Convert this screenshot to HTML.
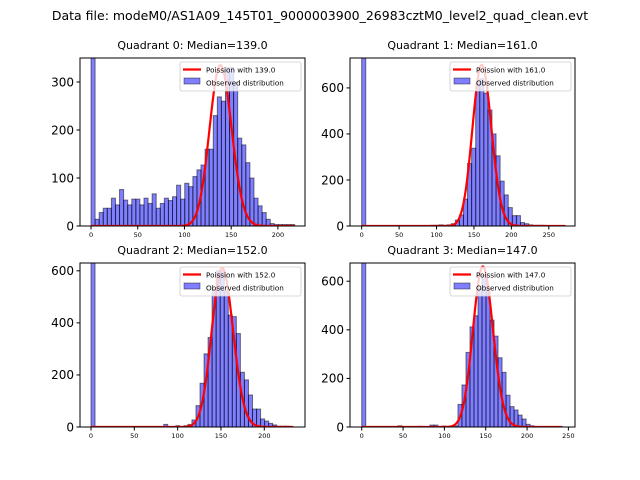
<!DOCTYPE html>
<html><head><meta charset="utf-8"><style>
body{margin:0;background:#fff;}
svg{display:block;font-family:"DejaVu Sans","Liberation Sans",sans-serif;}
</style></head><body>
<svg id="fig" width="640" height="480" viewBox="0 0 640 480">
<rect width="640" height="480" fill="#fff"/>
<text x="320" y="20" font-size="12.5" text-anchor="middle">Data file: modeM0/AS1A09_145T01_9000003900_26983cztM0_level2_quad_clean.evt</text>
</svg>
<script>
// Quadrant histogram counts (50 bins each)
const q0Counts=[5000,14,28,37,37,58,44,76,54,44,56,56,44,58,47,67,37,47,58,53,61,85,56,89,82,103,117,127,160,160,230,269,260,330,330,300,183,169,132,100,58,42,28,14,5,3,3,3,3,3];
const q1Counts=[5000,0,0,0,0,0,0,0,0,0,0,0,0,0,0,0,2,3,3,5,3,5,10,26,48,117,272,338,620,640,577,504,400,305,195,135,80,45,45,15,10,5,3,3,3,2,2,2,2,2];
const q2Counts=[5000,0,0,0,0,0,0,0,0,0,0,0,0,0,0,0,0,0,10,0,0,5,0,5,10,27,82,168,281,344,531,600,600,520,430,424,359,210,181,123,69,69,31,23,14,8,3,3,3,2];
const q3Counts=[5000,0,0,0,0,0,0,0,0,5,0,0,0,0,3,0,0,8,8,0,4,0,0,5,93,173,307,412,458,570,625,563,440,374,285,225,131,84,70,49,33,11,5,2,2,2,2,2,2,2];
const medians=[139.0,161.0,152.0,147.0];
const poissonPeaks=[335,700,610,660];
const binWidths=[4.36,5.44,4.66,4.85];
const yMaxes=[350,730,630,675];
const xLims=[[-11.8,229],[-15.6,285],[-12.7,247],[-14.2,258]];
const yTickVals=[[0,100,200,300],[0,200,400,600],[0,200,400,600],[0,200,400,600]];
const xTickVals=[[0,50,100,150,200],[0,50,100,150,200,250],[0,50,100,150,200],[0,50,100,150,200,250]];

const NS="http://www.w3.org/2000/svg";
const svg=document.getElementById('fig');
const boxes=[[80,305,58,226],[350,575,58,226],[80,305,263,427],[350,575,263,427]];
const allCounts=[q0Counts,q1Counts,q2Counts,q3Counts];
function mk(tag,attrs,parent){const e=document.createElementNS(NS,tag);for(const k in attrs)e.setAttribute(k,attrs[k]);(parent||svg).appendChild(e);return e;}

for(let q=0;q<4;q++){
  const [L,R,T,B]=boxes[q];
  const [x0,x1]=xLims[q];
  const ymax=yMaxes[q];
  const xs=v=>L+(v-x0)/(x1-x0)*(R-L);
  const ys=v=>B-v/ymax*(B-T);
  const g=mk('g',{});
  
  
  const cid='clip'+q;
  const cp=mk('clipPath',{id:cid},g);mk('rect',{x:L,y:T,width:R-L,height:B-T},cp);
  const plot=mk('g',{'clip-path':'url(#'+cid+')'},g);
  const counts=allCounts[q];const bw=binWidths[q];
  counts.forEach((c,i)=>{
    if(c<=0)return;
    const xa=xs(i*bw),xb=xs((i+1)*bw);
    const r=mk('rect',{x:xa,y:ys(c),width:xb-xa,height:B-ys(c),fill:'rgba(0,0,255,0.5)',stroke:'rgba(0,0,0,0.5)','stroke-width':1},plot);
    
    
  });
  const lam=medians[q];const kmax=Math.round(counts.length*bw);
  let lf=0;const lp=[];
  for(let k=0;k<=kmax;k++){if(k>0)lf+=Math.log(k);lp.push(k*Math.log(lam)-lam-lf);}
  const mode=Math.floor(lam);const lpm=lp[mode];
  let d='';
  for(let k=0;k<=kmax;k++){const v=poissonPeaks[q]*Math.exp(lp[k]-lpm);d+=(k?'L':'M')+xs(k).toFixed(2)+','+ys(v).toFixed(2);}
  const pl=mk('path',{d:d,fill:'none',stroke:'#ff0000','stroke-width':2.2},plot);
  
  
  mk('rect',{x:L,y:T,width:R-L,height:B-T,fill:'none',stroke:'#000','stroke-width':1},g);
  yTickVals[q].forEach(v=>{const y=ys(v);mk('line',{x1:L-3.5,x2:L,y1:y,y2:y,stroke:'#000'},g);
    const t=mk('text',{x:L-6,y:y+4.3,'font-size':12,'text-anchor':'end'},g);t.textContent=v;
    });
  xTickVals[q].forEach(v=>{const x=xs(v);mk('line',{x1:x,x2:x,y1:B,y2:B+3.5,stroke:'#000'},g);
    const t=mk('text',{x:x,y:B+11,'font-size':6.5,'text-anchor':'middle'},g);t.textContent=v;
    });
  const ti=mk('text',{x:(L+R)/2,y:T-9,'font-size':11,'text-anchor':'middle'},g);
  ti.textContent='Quadrant '+q+': Median='+medians[q].toFixed(1);
  
  const lg=mk('g',{},g);
  
  const lx=R-125,ly=T+4;
  mk('rect',{x:lx,y:ly,width:121,height:29,rx:2,fill:'rgba(255,255,255,0.8)',stroke:'#ccc','stroke-width':0.8},lg);
  mk('line',{x1:lx+3,x2:lx+21,y1:ly+7.5,y2:ly+7.5,stroke:'#ff0000','stroke-width':2.2},lg);
  const t1=mk('text',{x:lx+26,y:ly+10.5,'font-size':7.2},lg);t1.textContent='Poission with '+medians[q].toFixed(1);
  mk('rect',{x:lx+4,y:ly+16,width:16,height:6,fill:'rgba(0,0,255,0.5)',stroke:'rgba(0,0,0,0.5)','stroke-width':0.8},lg);
  const t2=mk('text',{x:lx+26,y:ly+23.5,'font-size':7.2},lg);t2.textContent='Observed distribution';
}
</script>
</body></html>
